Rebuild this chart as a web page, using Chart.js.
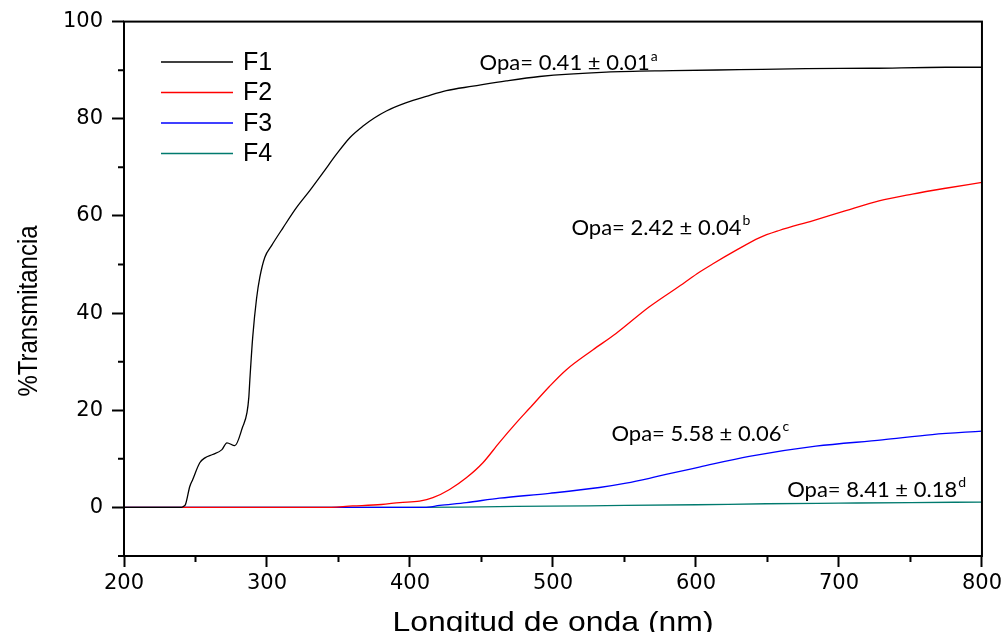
<!DOCTYPE html>
<html>
<head>
<meta charset="utf-8">
<script src="https://cdn.jsdelivr.net/npm/chart.js@4.4.1/dist/chart.umd.min.js"></script>
<style>
  body { margin: 0; background: #fff; }
  #wrap { width: 1006px; height: 632px; }
</style>
</head>
<body>
<div id="wrap"><canvas id="uvChart" width="1006" height="632"></canvas></div>
<script>
// wavelength (nm) / transmittance (%)
const f1Wave = [200, 240, 241.5, 243, 246, 248, 253, 256.6, 262, 268.5, 272, 277.5, 283, 286, 287.3, 288, 290, 292.7, 295, 298.5, 303.2, 311.3, 320.6, 329.9, 339.2, 348.6, 357.9, 367.2, 375.3, 383.5, 397.5, 411.4, 425.4, 444, 467.3, 490.6, 537.2, 583.7, 630.3, 676.8, 723.4, 774.6, 800];
const f1Trans = [0, 0, 0.2, 0.6, 4.3, 5.7, 9.2, 10.2, 10.9, 11.9, 13.3, 12.7, 16.6, 19.5, 22.7, 26.2, 35, 43.0, 47.4, 51.5, 53.9, 57.6, 61.7, 65.2, 68.9, 72.7, 76.1, 78.5, 80.2, 81.6, 83.3, 84.6, 85.8, 86.7, 87.8, 88.7, 89.6, 89.9, 90.1, 90.3, 90.4, 90.6, 90.6];

const f2Wave = [200, 339, 360, 380, 392.8, 406.7, 416, 427.7, 439.4, 451, 462.6, 474.3, 483.6, 497.5, 509.2, 527.8, 544.1, 567.4, 590.7, 602.3, 611.6, 627.9, 644.2, 658.2, 681.5, 704.8, 728, 751.3, 774.6, 800];
const f2Trans = [0, 0, 0.3, 0.6, 1.0, 1.3, 2.0, 3.7, 6.1, 9.2, 13.4, 17.4, 20.4, 24.9, 28.3, 32.4, 35.8, 41.3, 46.0, 48.4, 50.1, 52.9, 55.5, 57.0, 59.0, 61.1, 63.1, 64.5, 65.7, 66.9];

const f3Wave = [200, 410, 420.7, 439.4, 462.6, 497.5, 532.5, 551.1, 567.4, 579, 602.3, 637.2, 683.8, 730.3, 765.3, 800];
const f3Trans = [0, 0, 0.4, 1.0, 1.9, 2.9, 4.1, 5.0, 6.0, 6.8, 8.3, 10.5, 12.6, 13.9, 15.0, 15.7];

const f4Wave = [200, 400, 450, 497.5, 550, 600, 649, 700, 750, 800];
const f4Trans = [0, 0, 0.12, 0.27, 0.4, 0.55, 0.75, 0.88, 1.0, 1.1];

const seriesNames = ['F1', 'F2', 'F3', 'F4'];
const seriesColors = ['#000000', '#ff0000', '#0000ff', '#007a6e'];

const xTicks = [200, 300, 400, 500, 600, 700, 800];
const yTicks = [0, 20, 40, 60, 80, 100];
const xMinor = [250, 350, 450, 550, 650, 750];
const yMinor = [-10, 10, 30, 50, 70, 90];

// opacity notes, anchored in data units (left edge, middle of text)
const opaText = ['Opa= 0.41 \u00b1 0.01', 'Opa= 2.42 \u00b1 0.04', 'Opa= 5.58 \u00b1 0.06', 'Opa= 8.41 \u00b1 0.18'];
const opaSup = ['a', 'b', 'c', 'd'];
const opaAt = [[448.7, 91.4], [512.9, 57.6], [540.9, 15.2], [663.8, 3.7]];

const toPoints = (xs, ys) => xs.map((v, i) => ({ x: v, y: ys[i] }));
const seriesData = [
    toPoints(f1Wave, f1Trans),
    toPoints(f2Wave, f2Trans),
    toPoints(f3Wave, f3Trans),
    toPoints(f4Wave, f4Trans)
];

const TICK_FONT = { family: 'DejaVu Sans', size: 21 };

// box, minor ticks, axis titles, legend and the Opa notes
const extras = {
    id: 'extras',
    afterDraw(chart) {
        const { ctx, chartArea: a, scales: { x, y } } = chart;
        ctx.save();
        ctx.strokeStyle = '#000';
        ctx.lineWidth = 2;
        ctx.strokeRect(a.left, a.top, a.right - a.left, a.bottom - a.top);

        ctx.beginPath();
        xMinor.forEach(v => {
            const px = x.getPixelForValue(v);
            ctx.moveTo(px, a.bottom);
            ctx.lineTo(px, a.bottom + 6);
        });
        yMinor.forEach(v => {
            const py = y.getPixelForValue(v);
            ctx.moveTo(a.left, py);
            ctx.lineTo(a.left - 6, py);
        });
        ctx.stroke();

        ctx.fillStyle = '#000';
        // x title
        ctx.save();
        ctx.translate((a.left + a.right) / 2, 631);
        ctx.scale(1.14, 1);
        ctx.font = '28px "Liberation Sans", Arial, sans-serif';
        ctx.textAlign = 'center';
        ctx.textBaseline = 'alphabetic';
        ctx.fillText('Longitud de onda (nm)', 0, 0);
        ctx.restore();

        // y title
        ctx.save();
        ctx.translate(29, 311);
        ctx.scale(1.17, 1);
        ctx.rotate(-Math.PI / 2);
        ctx.font = '24px "Liberation Sans", Arial, sans-serif';
        ctx.textAlign = 'center';
        ctx.textBaseline = 'middle';
        ctx.fillText('%Transmitancia', 0, 0);
        ctx.restore();

        // legend
        ctx.font = '25px "Liberation Sans", Arial, sans-serif';
        ctx.textAlign = 'left';
        ctx.textBaseline = 'middle';
        seriesNames.forEach((name, i) => {
            const ly = 62 + i * 30.5;
            ctx.strokeStyle = seriesColors[i];
            ctx.lineWidth = 1.3;
            ctx.beginPath();
            ctx.moveTo(161, ly);
            ctx.lineTo(233, ly);
            ctx.stroke();
            ctx.fillStyle = '#000';
            ctx.fillText(name, 243, ly + 1);
        });

        // Opa notes with superscripts
        opaText.forEach((t, i) => {
            const px = x.getPixelForValue(opaAt[i][0]);
            const py = y.getPixelForValue(opaAt[i][1]);
            ctx.font = '22px Lato, "Open Sans", sans-serif';
            ctx.textBaseline = 'middle';
            ctx.fillText(t, px, py);
            const w = ctx.measureText(t).width;
            ctx.font = '14px Lato, "Open Sans", sans-serif';
            ctx.fillText(opaSup[i], px + w + 1, py - 7);
        });
        ctx.restore();
    }
};

new Chart(document.getElementById('uvChart').getContext('2d'), {
    type: 'line',
    data: {
        datasets: seriesNames.map((name, i) => ({
            label: name,
            data: seriesData[i],
            borderColor: seriesColors[i],
            borderWidth: 1.3,
            pointRadius: 0,
            fill: false,
            cubicInterpolationMode: 'monotone'
        }))
    },
    options: {
        responsive: false,
        animation: false,
        devicePixelRatio: 1,
        layout: { padding: { top: 20, right: 23, left: 0, bottom: 0 } },
        plugins: {
            legend: { display: false },
            tooltip: { enabled: false }
        },
        scales: {
            x: {
                type: 'linear',
                min: 200,
                max: 800,
                afterFit: s => { s.height = 76; },
                afterBuildTicks: s => { s.ticks = xTicks.map(v => ({ value: v })); },
                border: { display: false },
                grid: { drawOnChartArea: false, drawTicks: true, tickLength: 11, tickWidth: 2, tickColor: '#000' },
                ticks: { color: '#000', font: TICK_FONT, padding: 4, maxRotation: 0 }
            },
            y: {
                type: 'linear',
                min: -10,
                max: 100,
                afterFit: s => { s.width = 124; },
                afterBuildTicks: s => { s.ticks = yTicks.map(v => ({ value: v })); },
                border: { display: false },
                grid: { drawOnChartArea: false, drawTicks: true, tickLength: 12, tickWidth: 2, tickColor: '#000' },
                ticks: { color: '#000', font: TICK_FONT, padding: 9 }
            }
        }
    },
    plugins: [extras]
});
</script>
</body>
</html>
